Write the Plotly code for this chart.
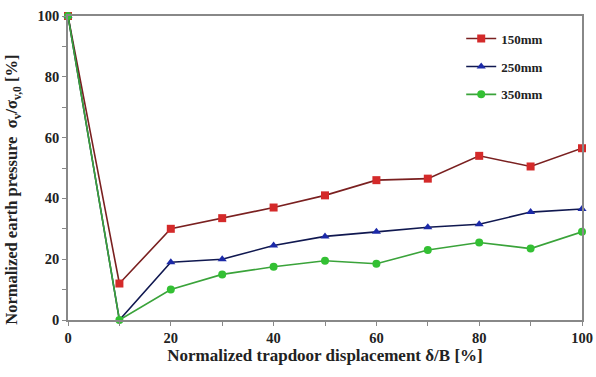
import plotly.graph_objects as go

x_disp = [0, 10, 20, 30, 40, 50, 60, 70, 80, 90, 100]
p150 = [100, 12, 30, 33.5, 37, 41, 46, 46.5, 54, 50.5, 56.5]
p250 = [100, 0, 19, 20, 24.5, 27.5, 29, 30.5, 31.5, 35.5, 36.5]
p350 = [100, 0, 10, 15, 17.5, 19.5, 18.5, 23, 25.5, 23.5, 29]
names = ["150mm", "250mm", "350mm"]
tick_vals = [0, 20, 40, 60, 80, 100]

font_fam = "Liberation Serif, Times New Roman, serif"

fig = go.Figure()
series = [
    (p150, names[0], "#d42a2a", "#7a2020", "square"),
    (p250, names[1], "#1c2aa8", "#101850", "triangle-up"),
    (p350, names[2], "#33c033", "#3aa33a", "circle"),
]
for ys, nm, mc, lc, sym in series:
    fig.add_trace(go.Scatter(
        x=x_disp, y=ys, name=nm, mode="lines+markers", legendgroup=nm,
        line=dict(color=lc, width=1.6),
        marker=dict(color=mc, symbol=sym, size=8),
        cliponaxis=False,
    ))

axis_common = dict(
    range=[0, 100], tickvals=tick_vals, showgrid=False, zeroline=False,
    showline=True, linecolor="#888888", linewidth=1.5, mirror=True,
    ticks="outside", ticklen=4, tickcolor="#888888", automargin=False,
    minor=dict(dtick=10, ticks="outside", ticklen=4, tickcolor="#888888"),
    tickfont=dict(family=font_fam, size=14.5, color="#222222", weight="bold"),
)

fig.update_xaxes(**axis_common,
                 title=dict(text="Normalized trapdoor displacement δ/B [%]",
                            font=dict(family=font_fam, size=17, color="#222222", weight="bold"),
                            standoff=4))
fig.update_yaxes(**axis_common)

fig.add_annotation(
    text="Normalized earth pressure  σ<sub>v</sub>/σ<sub>v,0</sub> [%]",
    xref="paper", yref="paper", x=-0.108, y=0.43, textangle=-90,
    showarrow=False, xanchor="center", yanchor="middle",
    font=dict(family=font_fam, size=16.5, color="#222222", weight="bold"),
)

fig.update_layout(
    width=596, height=377,
    margin=dict(l=68, r=14, t=16, b=57),
    paper_bgcolor="white", plot_bgcolor="white",
    font=dict(family=font_fam, color="#222222"),
    legend=dict(x=0.765, y=0.975, xanchor="left", yanchor="top",
                font=dict(family=font_fam, size=13, color="#222222", weight="bold"),
                bgcolor="rgba(255,255,255,0)", itemwidth=30, tracegroupgap=8),
)

fig.write_html("out.html")
